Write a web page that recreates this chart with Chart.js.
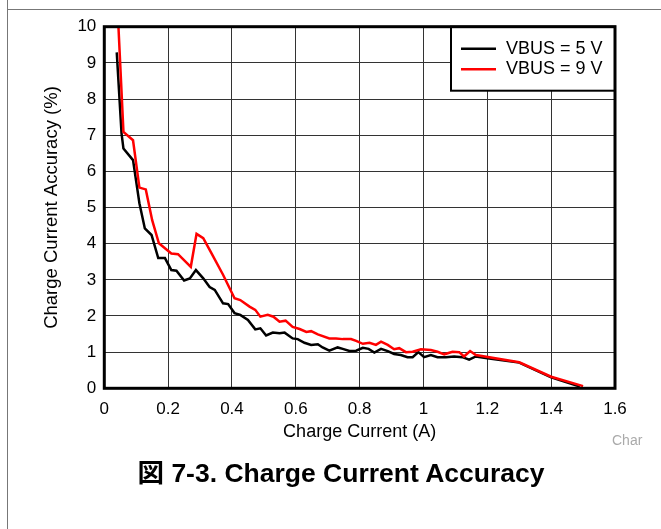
<!DOCTYPE html>
<html>
<head>
<meta charset="utf-8">
<script src="https://cdn.jsdelivr.net/npm/chart.js@4/dist/chart.umd.min.js"></script>
<style>
  body { margin: 0; background: #fff; }
  #wrap { position: relative; width: 661px; height: 529px; overflow: hidden; font-family: 'Liberation Sans', Arial, sans-serif; }
  #chart { position: absolute; left: 0; top: 0; }
  .vline { position: absolute; left: 7px; top: 0; width: 1px; height: 529px; background: #777; }
  .hline { position: absolute; left: 7px; top: 9px; width: 654px; height: 1px; background: #777; }
  #caption { position: absolute; left: 0; width: 682px; top: 451px; text-align: center; font-weight: bold; font-size: 26.5px; color: #000;
             font-family: 'Liberation Sans', 'Noto Sans CJK JP', Arial, sans-serif; }
  #tag { position: absolute; left: 612px; top: 432px; font-size: 14px; color: #aaa; }
</style>
</head>
<body>
<div id="wrap">
  <canvas id="chart" width="661" height="529"></canvas>
  <div class="vline"></div>
  <div class="hline"></div>
  <div id="tag">Char</div>
  <div id="caption">図 7-3. Charge Current Accuracy</div>
</div>
<script>
// Charge current (A) and accuracy (%)
const current5V = [0.039, 0.054, 0.06, 0.09, 0.11, 0.127, 0.148, 0.169, 0.19, 0.21, 0.226, 0.25, 0.268, 0.287, 0.31, 0.33, 0.346, 0.372, 0.388, 0.408,
  0.426, 0.45, 0.473, 0.489, 0.507, 0.528, 0.549, 0.565, 0.59, 0.606, 0.627, 0.648, 0.669, 0.684, 0.705, 0.731, 0.747, 0.768, 0.789, 0.81,
  0.828, 0.846, 0.867, 0.888, 0.908, 0.929, 0.95, 0.966, 0.984, 1.002, 1.023, 1.044, 1.07, 1.096, 1.122, 1.143, 1.164, 1.2, 1.3, 1.4, 1.49];
const accuracy5V = [9.29, 7.05, 6.63, 6.31, 5.12, 4.42, 4.24, 3.6, 3.6, 3.27, 3.25, 2.98, 3.04, 3.27, 3.04, 2.8, 2.72, 2.35, 2.33, 2.08,
  2.03, 1.89, 1.63, 1.66, 1.46, 1.54, 1.52, 1.54, 1.38, 1.36, 1.26, 1.2, 1.22, 1.13, 1.04, 1.13, 1.09, 1.03, 1.04, 1.12,
  1.09, 0.99, 1.09, 1.03, 0.95, 0.92, 0.86, 0.86, 1.0, 0.86, 0.92, 0.86, 0.86, 0.88, 0.86, 0.79, 0.88, 0.83, 0.71, 0.3, 0.05];

const current9V = [0.04, 0.06, 0.09, 0.11, 0.13, 0.15, 0.171, 0.21, 0.231, 0.271, 0.289, 0.31, 0.336, 0.372, 0.408, 0.426, 0.455, 0.473, 0.489, 0.512,
  0.53, 0.549, 0.568, 0.59, 0.612, 0.633, 0.648, 0.669, 0.705, 0.726, 0.747, 0.773, 0.789, 0.81, 0.831, 0.851, 0.867, 0.888, 0.908, 0.924,
  0.945, 0.966, 0.992, 1.023, 1.044, 1.065, 1.091, 1.112, 1.127, 1.146, 1.164, 1.3, 1.4, 1.5];
const accuracy9V = [10.8, 7.09, 6.86, 5.55, 5.5, 4.65, 4.01, 3.73, 3.71, 3.36, 4.27, 4.15, 3.73, 3.14, 2.49, 2.44, 2.26, 2.17, 1.98, 2.03,
  1.98, 1.84, 1.87, 1.7, 1.64, 1.56, 1.58, 1.49, 1.38, 1.38, 1.36, 1.36, 1.31, 1.23, 1.26, 1.2, 1.29, 1.2, 1.08, 1.11,
  1.0, 1.01, 1.08, 1.06, 1.01, 0.94, 1.01, 1.0, 0.88, 1.03, 0.92, 0.72, 0.32, 0.06];

const seriesNames = ['VBUS = 5 V', 'VBUS = 9 V'];
const xTickLabels = ['0', '0.2', '0.4', '0.6', '0.8', '1', '1.2', '1.4', '1.6'];
const yTickLabels = ['0', '1', '2', '3', '4', '5', '6', '7', '8', '9', '10'];

const toPoints = (xs, ys) => xs.map((x, i) => ({x: x, y: ys[i]}));

// legend box in the upper right corner of the plot
const boxLegend = {
  id: 'boxLegend',
  afterDatasetsDraw(chart) {
    const {ctx, chartArea} = chart;
    const w = 164, h = 64;
    const x0 = chartArea.right - w, y0 = chartArea.top;
    ctx.save();
    ctx.fillStyle = '#fff';
    ctx.fillRect(x0, y0, w, h);
    ctx.lineWidth = 2;
    ctx.strokeStyle = '#000';
    ctx.strokeRect(x0, y0, w, h);
    ctx.font = '18px "Liberation Sans", Arial, sans-serif';
    ctx.textBaseline = 'middle';
    ctx.fillStyle = '#000';
    chart.data.datasets.forEach((ds, i) => {
      const y = y0 + 22 + i * 20.5;
      ctx.strokeStyle = ds.borderColor;
      ctx.lineWidth = 2.5;
      ctx.beginPath();
      ctx.moveTo(x0 + 10, y);
      ctx.lineTo(x0 + 45, y);
      ctx.stroke();
      ctx.fillText(ds.label, x0 + 55, y);
    });
    ctx.restore();
  },
  afterDraw(chart) {
    const {ctx, chartArea} = chart;
    ctx.save();
    ctx.lineWidth = 3;
    ctx.strokeStyle = '#000';
    ctx.strokeRect(chartArea.left, chartArea.top, chartArea.right - chartArea.left, chartArea.bottom - chartArea.top);
    ctx.restore();
  }
};

const ctx = document.getElementById('chart').getContext('2d');
const chart = new Chart(ctx, {
  type: 'line',
  data: {
    datasets: [{
      label: seriesNames[0],
      data: toPoints(current5V, accuracy5V),
      borderColor: '#000000',
      borderWidth: 2.5,
      pointRadius: 0,
      tension: 0,
      order: 1,
    }, {
      label: seriesNames[1],
      data: toPoints(current9V, accuracy9V),
      borderColor: '#ff0000',
      borderWidth: 2.5,
      pointRadius: 0,
      tension: 0,
      order: 0,
    }],
  },
  options: {
    responsive: false,
    animation: false,
    layout: { padding: { left: 30, right: 46, top: 26.7, bottom: 80.7 } },
    plugins: { legend: { display: false }, tooltip: { enabled: false } },
    scales: {
      x: {
        type: 'linear',
        min: 0, max: 1.6,
        afterFit: (s) => { s.height = 60; },
        ticks: {
          stepSize: 0.2,
          color: '#000',
          padding: 11,
          font: { family: '"Liberation Sans", Arial, sans-serif', size: 17 },
          callback: (v, i) => xTickLabels[i],
        },
        grid: { color: '#333', lineWidth: 1, drawTicks: false },
        border: { display: false },
        title: {
          display: true,
          text: 'Charge Current (A)',
          color: '#000',
          padding: { top: 0, bottom: 5.5 },
          font: { family: '"Liberation Sans", Arial, sans-serif', size: 18 },
        },
      },
      y: {
        min: 0, max: 10,
        afterFit: (s) => { s.width = 74.3; },
        ticks: {
          stepSize: 1,
          color: '#000',
          padding: 8,
          font: { family: '"Liberation Sans", Arial, sans-serif', size: 17 },
          callback: (v, i) => yTickLabels[i],
        },
        grid: { color: '#333', lineWidth: 1, drawTicks: false },
        border: { display: false },
        title: {
          display: true,
          text: 'Charge Current Accuracy (%)',
          color: '#000',
          padding: { top: 11.2, bottom: 0 },
          font: { family: '"Liberation Sans", Arial, sans-serif', size: 18.5 },
        },
      },
    },
  },
  plugins: [boxLegend],
});
</script>
</body>
</html>
